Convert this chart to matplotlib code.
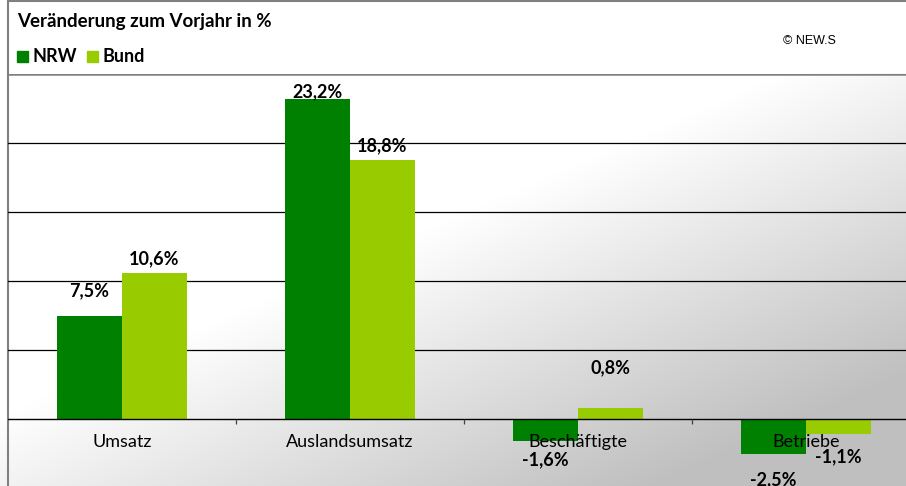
import matplotlib
matplotlib.use("Agg")
import matplotlib.pyplot as plt
import numpy as np

categories = ["Umsatz", "Auslandsumsatz", "Beschäftigte", "Betriebe"]
nrw = [7.5, 23.2, -1.6, -2.5]
bund = [10.6, 18.8, 0.8, -1.1]
nrw_labels = ["7,5%", "23,2%", "-1,6%", "-2,5%"]
bund_labels = ["10,6%", "18,8%", "0,8%", "-1,1%"]
# label y positions as drawn in the original (data units)
nrw_label_y = [9.3, 23.7, -2.95, -4.4]
bund_label_y = [11.6, 19.8, 3.75, -2.75]

C_NRW = "#008000"
C_BUND = "#99cc00"
FONT = "Lato"

W, H = 906, 486
fig = plt.figure(figsize=(W / 100, H / 100), dpi=100)

# background gradient (white top-left -> gray bottom-right)
bg = fig.add_axes([0, 0, 1, 1], zorder=0)
bg.set_axis_off()
yy, xx = np.mgrid[0:H, 0:W]
d = np.clip(0.0786 * xx + 0.18 * yy - 75, 0, 64)
g = (255 - d) / 255
g[yy < 74] = 1.0
bg.imshow(np.dstack([g, g, g]), extent=[0, W, H, 0], aspect="auto", vmin=0, vmax=1)
bg.set_xlim(0, W); bg.set_ylim(H, 0)
bg.plot([8, 8], [0, H], color="#808080", lw=1.5)
bg.plot([8, W], [1, 1], color="#808080", lw=1.5)

ax = fig.add_axes([8 / W, 0, 912 / W, (H - 74) / H], zorder=1)
ax.patch.set_alpha(0)
ax.set_xlim(-0.5, 3.5)
ax.set_ylim(-4.855, 25)
for sp in ax.spines.values():
    sp.set_visible(False)
ax.set_xticks([]); ax.set_yticks([])

for v in [5, 10, 15, 20]:
    ax.axhline(v, color="black", lw=0.9, zorder=1)
ax.axhline(25, color="#808080", lw=1.8, zorder=1)

x = np.arange(len(categories))
w = 0.285
ax.bar(x - w / 2, nrw, w, color=C_NRW, zorder=2)
ax.bar(x + w / 2, bund, w, color=C_BUND, zorder=2)
ax.axhline(0, color="black", lw=1.0, zorder=3)
ax.vlines([0.5, 1.5, 2.5], -0.38, 0, color="#404040", lw=0.9, zorder=3)

for i in range(len(categories)):
    ax.text(x[i], -1.67, categories[i], ha="center", va="center",
            fontsize=13, family=FONT, zorder=4)
    ax.text(x[i] - w / 2, nrw_label_y[i], nrw_labels[i], ha="center", va="center",
            fontsize=13, fontweight="bold", family=FONT, zorder=4)
    ax.text(x[i] + w / 2, bund_label_y[i], bund_labels[i], ha="center", va="center",
            fontsize=13, fontweight="bold", family=FONT, zorder=4)

# header
fig.text(17 / W, 1 - 22 / H, "Veränderung zum Vorjahr in %", ha="left", va="center",
         fontsize=13.5, fontweight="bold", family=FONT)
fig.text(783 / W, 1 - 41 / H, "© NEW.S", ha="left", va="center",
         fontsize=9, family="Liberation Sans")
bg.add_patch(plt.Rectangle((17, 51), 11, 11, color=C_NRW))
bg.add_patch(plt.Rectangle((87, 51), 11, 11, color=C_BUND))
fig.text(33 / W, 1 - 57 / H, "NRW", ha="left", va="center",
         fontsize=13, fontweight="bold", family=FONT)
fig.text(102 / W, 1 - 57 / H, "Bund", ha="left", va="center",
         fontsize=13, fontweight="bold", family=FONT)

fig.savefig("out.png", dpi=100)
